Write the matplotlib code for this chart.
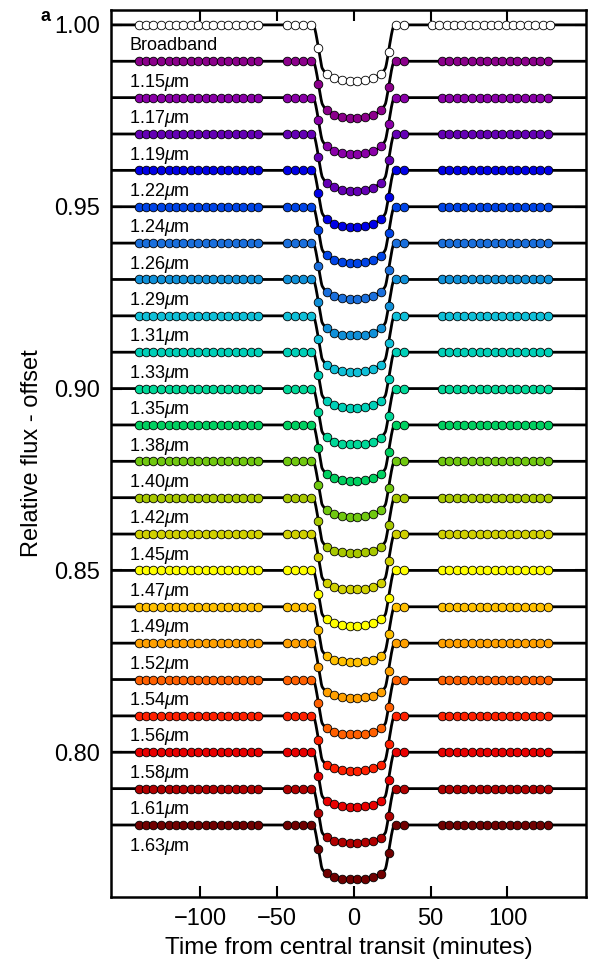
import numpy as np
import matplotlib
matplotlib.use("Agg")
import matplotlib.pyplot as plt

plt.rcParams['font.family'] = ['Liberation Sans', 'DejaVu Sans']
plt.rcParams['mathtext.fontset'] = 'custom'
plt.rcParams['mathtext.it'] = 'Liberation Sans:italic'

# light curve labels, top to bottom (broadband first)
labels = ['Broadband', '1.15', '1.17', '1.19', '1.22', '1.24', '1.26', '1.29',
          '1.31', '1.33', '1.35', '1.38', '1.40', '1.42', '1.45', '1.47',
          '1.49', '1.52', '1.54', '1.56', '1.58', '1.61', '1.63']
offsets = [1.00, 0.99, 0.98, 0.97, 0.96, 0.95, 0.94, 0.93, 0.92, 0.91, 0.90,
           0.89, 0.88, 0.87, 0.86, 0.85, 0.84, 0.83, 0.82, 0.81, 0.80, 0.79, 0.78]
colors = ['white', '#8b008b', '#8a00a8', '#6400b4', '#0000e6', '#0044e6',
          '#1a6fdc', '#1090d8', '#10c0d8', '#00d0b8', '#00d898', '#00d060',
          '#70c810', '#a8c800', '#d0d000', '#ffff00', '#ffc000', '#ffa000',
          '#ff6000', '#ff2000', '#e80000', '#b00000', '#700000']
# planet/star radius ratio and limb darkening read per channel
rp = [0.1160, 0.1162, 0.1160, 0.1161, 0.1160, 0.1161, 0.1158, 0.1160,
      0.1160, 0.1159, 0.1160, 0.1161, 0.1158, 0.1161, 0.1160, 0.1161,
      0.1162, 0.1157, 0.1158, 0.1159, 0.1157, 0.1158, 0.1156]
u1 = [0.27, 0.33, 0.32, 0.31, 0.30, 0.30, 0.29, 0.28, 0.28, 0.27, 0.27,
      0.26, 0.26, 0.25, 0.25, 0.24, 0.24, 0.23, 0.23, 0.22, 0.22, 0.21, 0.21]
u2 = [0.25] * 23

# sample times (minutes from mid-transit) for the three HST orbits
t_orbit1 = [-140.0, -135.1, -130.3, -125.4, -120.5, -115.7, -110.8, -106.0,
            -101.1, -96.2, -91.4, -86.5, -81.6, -76.8, -71.9, -67.1, -62.2]
t_orbit2 = [-43.2, -38.1, -33.0, -27.9, -23.0, -17.7, -12.7, -7.6, -2.6,
            2.4, 7.5, 12.5, 17.5, 22.6, 27.4, 32.4]
t_orbit3_bb = [50.8, 55.6, 60.4, 65.2, 70.0, 74.8, 79.6, 84.4, 89.2, 94.0,
               98.8, 103.6, 108.4, 113.2, 118.0, 122.8, 127.6]
t_orbit3 = [57.2, 62.1, 67.1, 72.0, 76.9, 81.8, 86.8, 91.7, 96.6, 101.5,
            106.5, 111.4, 116.3, 121.2, 126.2]

# orbit geometry
a_rs = 15.0
inc = 89.1
period = 1.58 * 1440.0


def transit(t, p, c1, c2):
    t = np.asarray(t, dtype=float)
    ph = 2 * np.pi * t / period
    z = a_rs * np.sqrt(np.sin(ph) ** 2 + (np.cos(np.radians(inc)) * np.cos(ph)) ** 2)
    r = np.linspace(1e-5, 1, 3000)
    mu = np.sqrt(1 - r ** 2)
    I = 1 - c1 * (1 - mu) - c2 * (1 - mu) ** 2
    zz = z[:, None]
    rr = r[None, :]
    arg = (rr ** 2 + zz ** 2 - p ** 2) / (2 * rr * np.maximum(zz, 1e-9))
    L = 2 * rr * np.arccos(np.clip(arg, -1, 1))
    L = np.where(rr < p - zz, 2 * np.pi * rr, L)
    L = np.where((rr > zz + p) | (rr < zz - p), 0, L)
    blocked = np.trapezoid(I * L, r, axis=1)
    total = np.trapezoid(I * 2 * np.pi * r, r)
    return 1 - blocked / total


fig = plt.figure(figsize=(5.9, 9.69), dpi=100)
ax = fig.add_axes([0.188, 0.0743, 0.805, 0.9154])

tfine = np.linspace(-160, 155, 1500)
for i in range(len(labels)):
    off = offsets[i] - 1.0
    ax.plot(tfine, transit(tfine, rp[i], u1[i], u2[i]) + off, color='black', lw=2.0, zorder=2)
    if i == 0:
        tt = np.array(t_orbit1 + t_orbit2 + t_orbit3_bb)
        txt = labels[i]
    else:
        tt = np.array(t_orbit1 + t_orbit2 + t_orbit3)
        txt = labels[i] + r'$\mu$m'
    ax.plot(tt, transit(tt, rp[i], u1[i], u2[i]) + off, 'o', ms=6.2,
            mfc=colors[i], mec='black', mew=0.6, zorder=3)
    ax.text(-146, offsets[i] - 0.0058, txt, fontsize=13, va='center', ha='left')

ax.set_xlim(-158, 151)
ax.set_ylim(0.7602, 1.0041)
ax.set_xticks([-100, -50, 0, 50, 100])
ax.set_yticks([0.80, 0.85, 0.90, 0.95, 1.00])
ax.set_yticklabels(['0.80', '0.85', '0.90', '0.95', '1.00'])
ax.set_xticklabels(['\u2212100', '\u221250', '0', '50', '100'])
ax.tick_params(direction='in', top=True, right=True, length=8, width=1.5,
               labelsize=17, pad=8)
for s in ax.spines.values():
    s.set_linewidth(1.8)
ax.set_xlabel('Time from central transit (minutes)', fontsize=17.5, labelpad=5)
ax.set_ylabel('Relative flux - offset', fontsize=17, labelpad=8)
fig.text(0.068, 0.983, 'a', fontsize=13, fontweight='bold', ha='left', va='center')

fig.savefig('out.png', dpi=100)
